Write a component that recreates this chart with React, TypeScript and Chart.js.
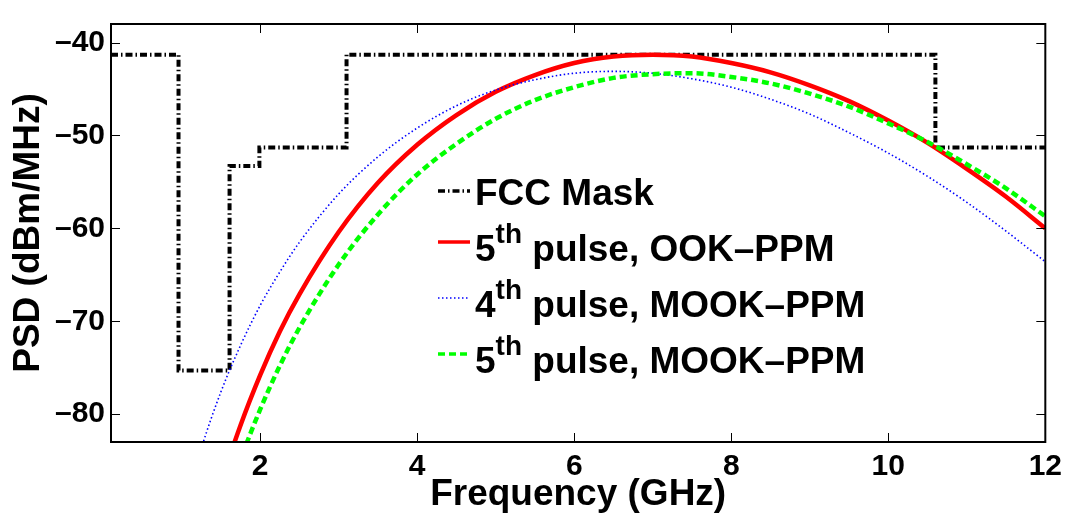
import React, { useEffect, useRef } from "react";
import { Chart, registerables } from "chart.js";

Chart.register(...registerables);

// ---- data ----
const freqGHz = [1.0, 1.25, 1.5, 1.75, 2.0, 2.25, 2.5, 3.0, 3.5, 4.0, 4.5, 5.0, 5.5, 6.0, 6.5, 7.0, 7.5, 8.0, 8.5, 9.0, 9.5, 10.0, 10.5, 11.0, 11.5, 12.0];
const ookPpm5th = [-104.5, -95.1, -87.5, -81.2, -75.8, -71.1, -67.1, -60.4, -55.1, -51.0, -47.8, -45.3, -43.5, -42.2, -41.5, -41.3, -41.5, -42.2, -43.2, -44.6, -46.3, -48.4, -50.8, -53.6, -56.6, -60.0];
const mookPpm4th = [-91.2, -83.7, -77.6, -72.6, -68.3, -64.7, -61.5, -56.3, -52.3, -49.2, -46.8, -45.1, -44.0, -43.3, -43.1, -43.3, -43.9, -44.8, -46.1, -47.7, -49.7, -51.9, -54.4, -57.2, -60.3, -63.6];
const mookPpm5th = [-108.3, -98.9, -91.2, -84.9, -79.5, -74.8, -70.7, -63.9, -58.5, -54.2, -50.9, -48.2, -46.2, -44.8, -43.8, -43.4, -43.3, -43.7, -44.4, -45.5, -46.9, -48.7, -50.7, -53.1, -55.7, -58.7];
const maskFreqGHz = [0.1, 0.96, 1.61, 1.99, 3.1, 10.6, 12];
const maskLevel = [-41.3, -75.3, -53.3, -51.3, -41.3, -51.3, -51.3];
const xTicks = [2, 4, 6, 8, 10, 12];
const yTicks = [-80, -70, -60, -50, -40];
const legendLead = ["FCC Mask", "5", "4", "5"];
const legendSup = ["", "th", "th", "th"];
const legendTail = ["", " pulse, OOK\u2013PPM", " pulse, MOOK\u2013PPM", " pulse, MOOK\u2013PPM"];

const FONT = "'Liberation Sans', Arial, Helvetica, sans-serif";

const toXY = (xs: number[], ys: number[]) => xs.map((x, i) => ({ x, y: ys[i] }));

const framePlugin = {
  id: "frameTicks",
  afterDatasetsDraw(chart: any) {
    const { ctx, chartArea: a, scales } = chart;
    const xs = scales.x;
    const ys = scales.y;
    ctx.save();
    ctx.strokeStyle = "#000";
    ctx.lineWidth = 1;
    const L = 9;
    ctx.beginPath();
    xTicks.forEach((t) => {
      const px = Math.round(xs.getPixelForValue(t)) + 0.5;
      ctx.moveTo(px, a.bottom);
      ctx.lineTo(px, a.bottom - L);
      ctx.moveTo(px, a.top);
      ctx.lineTo(px, a.top + L);
    });
    yTicks.forEach((t) => {
      const py = Math.round(ys.getPixelForValue(t)) + 0.5;
      ctx.moveTo(a.left, py);
      ctx.lineTo(a.left + L, py);
      ctx.moveTo(a.right, py);
      ctx.lineTo(a.right - L, py);
    });
    ctx.stroke();
    ctx.lineWidth = 2;
    ctx.strokeRect(a.left, a.top, a.right - a.left, a.bottom - a.top);
    ctx.restore();
  },
};

const legendPlugin = {
  id: "customLegend",
  afterDraw(chart: any) {
    const { ctx } = chart;
    const sampleX0 = 438;
    const sampleX1 = 470;
    const textX = 475;
    const rowBase = [205, 261, 317, 373];
    const lineY = [191, 242, 298, 354];
    ctx.save();
    [0, 1, 2, 3].forEach((di, i) => {
      const ds = chart.data.datasets[di];
      ctx.beginPath();
      ctx.strokeStyle = ds.borderColor;
      ctx.lineWidth = Math.min(ds.borderWidth, 3.5);
      ctx.setLineDash(ds.borderDash || []);
      ctx.moveTo(sampleX0, lineY[i]);
      ctx.lineTo(sampleX1, lineY[i]);
      ctx.stroke();
      ctx.setLineDash([]);
      ctx.fillStyle = "#000";
      ctx.textBaseline = "alphabetic";
      ctx.textAlign = "left";
      ctx.font = `bold 37px ${FONT}`;
      let x = textX;
      ctx.fillText(legendLead[i], x, rowBase[i]);
      x += ctx.measureText(legendLead[i]).width;
      if (legendSup[i]) {
        ctx.font = `bold 28px ${FONT}`;
        ctx.fillText(legendSup[i], x, rowBase[i] - 18);
        x += ctx.measureText(legendSup[i]).width;
        ctx.font = `bold 37px ${FONT}`;
        ctx.fillText(legendTail[i], x, rowBase[i]);
      }
    });
    ctx.restore();
  },
};

export default function App() {
  const ref = useRef<HTMLCanvasElement | null>(null);
  useEffect(() => {
    if (!ref.current) return;
    const chart = new Chart(ref.current, {
      type: "line",
      data: {
        datasets: [
          {
            label: "FCC Mask",
            data: toXY(maskFreqGHz, maskLevel),
            stepped: "before",
            borderColor: "#000000",
            borderWidth: 4,
            borderDash: [7, 3, 1.5, 3],
            pointRadius: 0,
            fill: false,
            order: 3,
          },
          {
            label: "5th pulse, OOK-PPM",
            data: toXY(freqGHz, ookPpm5th),
            borderColor: "#ff0000",
            borderWidth: 4.5,
            borderDash: [],
            pointRadius: 0,
            cubicInterpolationMode: "monotone",
            fill: false,
            order: 2,
          },
          {
            label: "4th pulse, MOOK-PPM",
            data: toXY(freqGHz, mookPpm4th),
            borderColor: "#0000ff",
            borderWidth: 1.6,
            borderDash: [1.5, 2.5],
            pointRadius: 0,
            cubicInterpolationMode: "monotone",
            fill: false,
            order: 1,
          },
          {
            label: "5th pulse, MOOK-PPM",
            data: toXY(freqGHz, mookPpm5th),
            borderColor: "#00ff00",
            borderWidth: 4.5,
            borderDash: [7, 4],
            pointRadius: 0,
            cubicInterpolationMode: "monotone",
            fill: false,
            order: 0,
          },
        ],
      },
      options: {
        animation: false,
        responsive: false,
        maintainAspectRatio: false,
        devicePixelRatio: 1,
        layout: { padding: { top: 6, right: 21, left: 0, bottom: 0 } },
        plugins: { legend: { display: false }, tooltip: { enabled: false } },
        scales: {
          x: {
            type: "linear",
            min: 0.1,
            max: 12,
            afterBuildTicks: (s: any) => {
              s.ticks = xTicks.map((v) => ({ value: v }));
            },
            afterFit: (s: any) => {
              s.height = 75;
            },
            grid: { display: false, drawTicks: false },
            border: { display: false },
            ticks: {
              font: { family: FONT, size: 30, weight: "bold" },
              color: "#000",
              padding: 7,
              maxRotation: 0,
              autoSkip: false,
              callback: (v: any) => String(v),
            },
            title: {
              display: true,
              text: "Frequency (GHz)",
              color: "#000",
              font: { family: FONT, size: 37, weight: "bold" },
              padding: { top: 0, bottom: 0 },
            },
          },
          y: {
            type: "linear",
            min: -83,
            max: -38,
            afterBuildTicks: (s: any) => {
              s.ticks = yTicks.map((v) => ({ value: v }));
            },
            afterFit: (s: any) => {
              s.width = 111;
            },
            grid: { display: false, drawTicks: false },
            border: { display: false },
            ticks: {
              font: { family: FONT, size: 30, weight: "bold" },
              color: "#000",
              padding: 6,
              autoSkip: false,
              callback: (v: any) => (v < 0 ? "\u2013" + Math.abs(v) : String(v)),
            },
            title: {
              display: true,
              text: "PSD (dBm/MHz)",
              color: "#000",
              font: { family: FONT, size: 37, weight: "bold" },
              padding: { top: 7, bottom: 0 },
            },
          },
        },
      },
      plugins: [framePlugin, legendPlugin],
    });
    return () => chart.destroy();
  }, []);

  return (
    <div style={{ position: "fixed", left: 0, top: 0, width: 1069, height: 517, background: "#fff" }}>
      <canvas ref={ref} width={1069} height={517} style={{ width: 1069, height: 517, display: "block" }} />
    </div>
  );
}
